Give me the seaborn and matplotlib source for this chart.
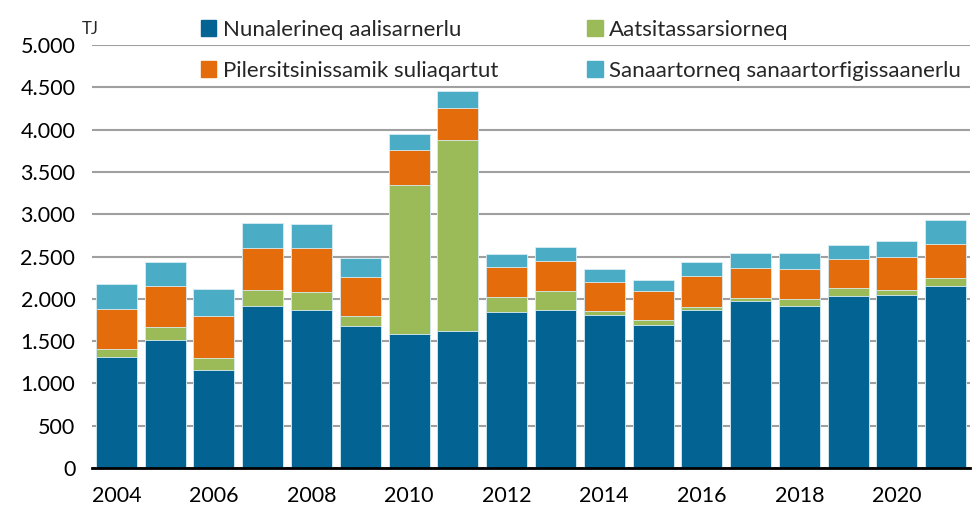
import pandas as pd
import numpy as np
import matplotlib
matplotlib.use("Agg")
import matplotlib.pyplot as plt
import seaborn as sns
from matplotlib.patches import Patch
from matplotlib.ticker import FuncFormatter

years = list(range(2004, 2022))
nunalerineq = [1309, 1509, 1156, 1910, 1863, 1683, 1588, 1616, 1844, 1871, 1804, 1686, 1863, 1969, 1910, 2033, 2048, 2154]
aatsitassarsiorneq = [99, 158, 149, 197, 217, 114, 1761, 2268, 173, 225, 56, 68, 44, 44, 87, 90, 59, 95]
pilersitsinissamik = [467, 479, 492, 492, 526, 464, 413, 373, 362, 353, 338, 334, 357, 350, 361, 342, 389, 401]
sanaartorneq = [303, 295, 318, 298, 276, 224, 185, 205, 156, 169, 149, 134, 174, 181, 182, 177, 185, 283]

labels = ["Nunalerineq aalisarnerlu", "Aatsitassarsiorneq",
          "Pilersitsinissamik suliaqartut", "Sanaartorneq sanaartorfigissaanerlu"]
colors = ["#036494", "#9BBB59", "#E46C0A", "#4BACC6"]

dfn = pd.DataFrame({"year": years,
                    labels[0]: nunalerineq,
                    labels[1]: aatsitassarsiorneq,
                    labels[2]: pilersitsinissamik,
                    labels[3]: sanaartorneq})
cum = dfn[labels].cumsum(axis=1)

sns.set_style("white")
plt.rcParams['font.family'] = ['Lato', 'DejaVu Sans']

fig = plt.figure(figsize=(9.78, 5.08), dpi=100)
ax = fig.add_axes([0.094, 0.079, 0.898, 0.832])

# draw cumulative totals from top to bottom so lower series sit on top
for i in range(3, -1, -1):
    sns.barplot(x=dfn["year"].astype(str), y=cum[labels[i]], color=colors[i],
                width=0.84, edgecolor="#d9eef5", linewidth=0.6, saturation=1,
                ax=ax, zorder=3)

ax.set_ylim(0, 5000)
ax.set_xlim(-0.5, 17.5)
ax.set_yticks(np.arange(0, 5001, 500))
ax.yaxis.set_major_formatter(FuncFormatter(lambda v, p: f"{int(v):,}".replace(",", ".")))
ax.set_xticks(range(0, 18, 2))
ax.set_xticklabels([str(y) for y in years[::2]])
ax.grid(axis="y", color="#a0a0a0", linewidth=1.5, zorder=0)
ax.set_axisbelow(True)
for s in ["top", "right", "left"]:
    ax.spines[s].set_visible(False)
ax.spines["bottom"].set_color("black")
ax.spines["bottom"].set_linewidth(2)
ax.spines["bottom"].set_zorder(5)
ax.tick_params(axis="both", length=0, labelsize=15.5, colors="black")
ax.tick_params(axis="x", pad=13)
ax.tick_params(axis="y", pad=12)
ax.set_xlabel("")
ax.set_ylabel("")

fig.text(0.084, 0.928, "TJ", fontsize=12, va="bottom")

handles = [Patch(color=colors[0]), Patch(color=colors[2]),
           Patch(color=colors[1]), Patch(color=colors[3])]
leg_labels = [labels[0], labels[2], labels[1], labels[3]]
fig.legend(handles, leg_labels, ncol=2, loc="upper left",
           bbox_to_anchor=(0.196, 0.979), frameon=False, fontsize=16,
           handlelength=0.7, handleheight=0.7, handletextpad=0.3,
           columnspacing=4.0, labelspacing=0.95, borderaxespad=0)

fig.savefig("out.png", dpi=100)
